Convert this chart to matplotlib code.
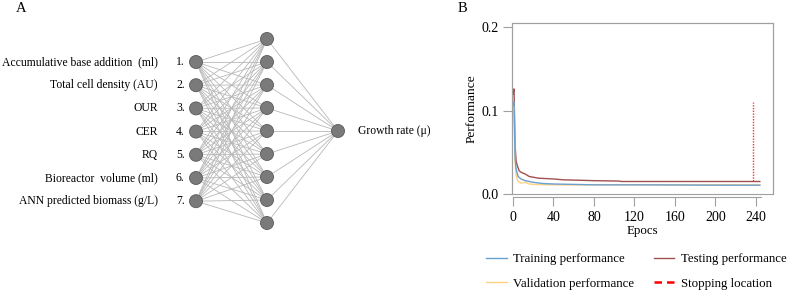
import matplotlib.pyplot as plt
from matplotlib.patches import Circle, Rectangle

plt.rcParams['font.family'] = ['Liberation Serif', 'DejaVu Serif']

# panel A: network layout
input_labels = ['Accumulative base addition  (ml)', 'Total cell density (AU)', 'OUR', 'CER',
                'RQ', 'Bioreactor  volume (ml)', 'ANN predicted biomass (g/L)']
n_hidden = 9
output_label = 'Growth rate (\u03bc)'

# panel B: training curves (epoch, performance)
train_ep = [0, 1, 2, 3, 5, 8, 12, 20, 30, 40, 60, 80, 120, 160, 200, 244]
train_val = [0.108, 0.110, 0.045, 0.030, 0.021, 0.018, 0.016, 0.014, 0.0125, 0.012, 0.0115, 0.011, 0.011, 0.0108, 0.0106, 0.0105]
valid_ep = [0, 1, 2, 3, 5, 8, 12, 16, 20, 30, 40, 60, 80, 120, 160, 200, 244]
valid_val = [0.100, 0.104, 0.040, 0.022, 0.015, 0.013, 0.014, 0.012, 0.0115, 0.0112, 0.011, 0.0108, 0.011, 0.011, 0.011, 0.011, 0.011]
test_ep = [0, 1, 2, 3, 4, 6, 8, 12, 16, 25, 40, 50, 80, 105, 107, 160, 200, 244]
test_val = [0.120, 0.126, 0.060, 0.040, 0.035, 0.028, 0.026, 0.024, 0.021, 0.019, 0.018, 0.017, 0.016, 0.0155, 0.015, 0.015, 0.015, 0.015]
stop_epoch = 237
stop_range = [0.015, 0.110]

fig = plt.figure(figsize=(7.9, 2.92), dpi=100)

# ---- panel A ----
axa = fig.add_axes([0, 0, 1, 1])
axa.set_xlim(0, 790)
axa.set_ylim(292, 0)
axa.axis('off')

x_in, x_hid, x_out = 196, 267, 338
y_in = [62 + 23.2 * i for i in range(len(input_labels))]
y_hid = [39 + 23 * i for i in range(n_hidden)]
y_out = 131

for yi in y_in:
    for yh in y_hid:
        axa.plot([x_in, x_hid], [yi, yh], color='#b8b8b8', lw=0.6, zorder=1)
for yh in y_hid:
    axa.plot([x_hid, x_out], [yh, y_out], color='#b8b8b8', lw=0.6, zorder=1)

fs = 8.4
node_kw = dict(radius=6.5, facecolor='#7a7a7a', edgecolor='#5a5a5a', lw=0.6, zorder=3)
for i, yi in enumerate(y_in):
    axa.add_patch(Circle((x_in, yi), **node_kw))
    axa.text(158, yi, input_labels[i], ha='right', va='center', fontsize=fs)
    axa.text(176, yi, f'{i + 1}.', ha='left', va='center', fontsize=fs)
for yh in y_hid:
    axa.add_patch(Circle((x_hid, yh), **node_kw))
axa.add_patch(Circle((x_out, y_out), **node_kw))
axa.text(358, y_out, output_label, ha='left', va='center', fontsize=fs)
axa.text(16, 8, 'A', ha='left', va='center', fontsize=10.5)
axa.text(458, 8, 'B', ha='left', va='center', fontsize=10.5)

# ---- panel B ----
ax = fig.add_axes([512 / 790, 1 - 194 / 292, 261 / 790, 171 / 292])
ax.plot(train_ep, train_val, color='#6a9fd0', lw=1.0, label='Training performance', zorder=4)
ax.plot(valid_ep, valid_val, color='#ffd27f', lw=1.0, label='Validation performance', zorder=3)
ax.plot(test_ep, test_val, color='#a05050', lw=1.0, label='Testing performance', zorder=2)
ax.plot([stop_epoch, stop_epoch], stop_range, color='#ff3030', lw=1.0, ls=(0, (1, 1)), zorder=5)
ax.plot([], [], color='#ff0000', lw=1.8, ls=(0, (3, 2)), label='Stopping location')

ax.set_xlim(-1, 257)
ax.set_ylim(0, 0.205)
ax.set_xticks(range(0, 241, 40))
ax.set_yticks([0.0, 0.1, 0.2])
ax.set_yticklabels(['0.0', '0.1', '0.2'])

grey = '#a0a0a0'
for s in ['top', 'right', 'left']:
    ax.spines[s].set_color(grey)
    ax.spines[s].set_linewidth(0.8)
ax.add_patch(Rectangle((0, 0), 1, 1, transform=ax.transAxes, fill=False,
                       edgecolor=grey, lw=0.8, clip_on=False, zorder=6))
ax.spines['bottom'].set_position(('outward', 2.5))
ax.spines['bottom'].set_bounds(0, 245)
ax.spines['bottom'].set_color(grey)
ax.spines['bottom'].set_linewidth(0.8)
ax.tick_params(axis='both', colors=grey, labelcolor='black', width=0.8, labelsize=10)
ax.tick_params(axis='y', length=6.5, pad=3)
ax.tick_params(axis='x', length=6.5, pad=3)
ax.set_xlabel('Epocs', fontsize=9.3, labelpad=1)
ax.set_ylabel('Performance', fontsize=9.7, labelpad=3)

ax.legend(ncol=2, loc='upper left', bbox_to_anchor=(486 / 790, 1 - 253 / 292),
          bbox_transform=fig.transFigure, frameon=False, fontsize=9.3, borderpad=0,
          borderaxespad=0, handlelength=1.6, handletextpad=0.5, columnspacing=1.5,
          labelspacing=1.0)

fig.savefig('out.png', dpi=100)
